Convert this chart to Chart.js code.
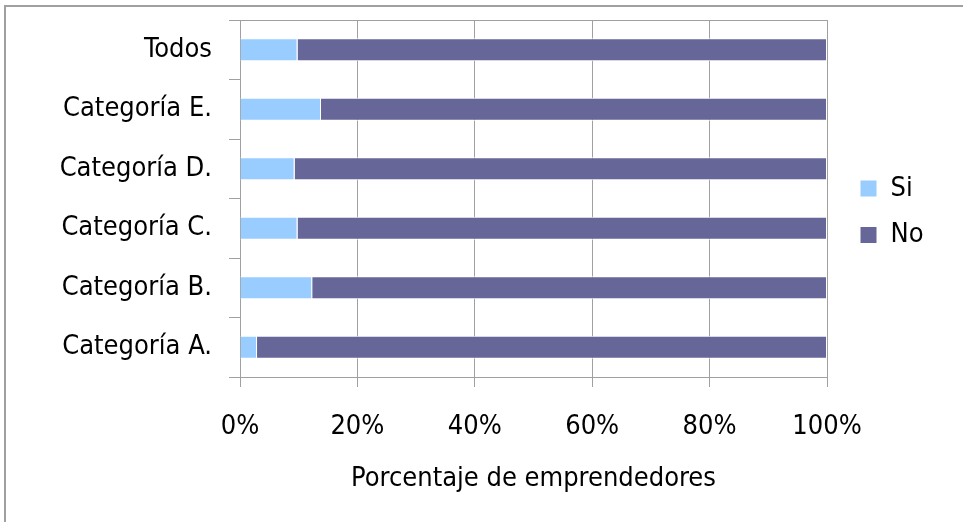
<!DOCTYPE html>
<html>
<head>
<meta charset="utf-8">
<script src="https://cdn.jsdelivr.net/npm/chart.js@4/dist/chart.umd.min.js"></script>
<style>
  html, body { margin: 0; padding: 0; background: #fff; overflow: hidden; }
  #wrap { position: relative; width: 963px; height: 522px; }
  #frame { position: absolute; left: 4px; top: 5px; width: 1000px; height: 600px;
           border-left: 2px solid #a0a0a0; border-top: 2px solid #a0a0a0; pointer-events: none; }
</style>
</head>
<body>
<div id="wrap">
  <canvas id="chart" width="963" height="522"></canvas>
  <div id="frame"></div>
</div>
<script>
// Chart data
const categories = ['Todos', 'Categoría E.', 'Categoría D.', 'Categoría C.', 'Categoría B.', 'Categoría A.'];
const siValues = [9.8, 13.8, 9.3, 9.8, 12.3, 2.9];
const noValues = [90.2, 86.2, 90.7, 90.2, 87.7, 97.1];
const xTicks = [0, 20, 40, 60, 80, 100];

const FONT = "'Liberation Sans Narrow', 'Arial Narrow', 'DejaVu Sans Condensed', sans-serif";
const FSIZE = 27;
const GRID = '#a0a0a0';

// Put the legend where the original has it (right of the plot, a bit above centre)
const legendShift = {
  id: 'legendShift',
  afterLayout(chart) {
    const lg = chart.legend;
    if (!lg || !lg.columnSizes) return;
    const pad = lg.options.labels.padding;
    lg.left = 860 - pad;
    lg.right = chart.width;
    lg.width = lg.right - lg.left;
    // first item top should sit at y = 175
    const cur = (lg.top + pad + lg.bottom - lg.columnSizes[0].height) / 2;
    const dy = 175 - cur;
    lg.top += dy; lg.bottom += dy;
  }
};

const ctx = document.getElementById('chart').getContext('2d');
new Chart(ctx, {
  type: 'bar',
  data: {
    labels: categories,
    datasets: [
      { label: 'Si', data: siValues, backgroundColor: '#99ccff', borderColor: '#ffffff', borderWidth: 1 },
      { label: 'No', data: noValues, backgroundColor: '#666699', borderColor: '#ffffff', borderWidth: 1 }
    ]
  },
  options: {
    indexAxis: 'y',
    responsive: false,
    animation: false,
    barPercentage: 1,
    categoryPercentage: 0.39,
    layout: { padding: { top: 20, right: 76, left: 0, bottom: 0 } },
    plugins: {
      legend: {
        position: 'right',
        maxWidth: 60,
        labels: {
          boxWidth: 17, boxHeight: 17, padding: 19.5,
          color: '#000', font: { family: FONT, size: FSIZE }
        }
      },
      tooltip: { enabled: false }
    },
    scales: {
      x: {
        stacked: true,
        min: 0, max: 100,
        afterBuildTicks: axis => { axis.ticks = xTicks.map(v => ({ value: v })); },
        afterFit: axis => { axis.height = 145; axis.paddingLeft = 0; axis.paddingRight = 0; },
        grid: { color: GRID, tickLength: 10, lineWidth: 1 },
        border: { color: GRID, width: 1 },
        ticks: { color: '#000', padding: 24, font: { family: FONT, size: FSIZE }, callback: v => v + '%' },
        title: {
          display: true, text: 'Porcentaje de emprendedores', color: '#000',
          font: { family: FONT, size: FSIZE }, padding: { top: 0, bottom: 27 }
        }
      },
      y: {
        stacked: true,
        afterFit: axis => { axis.width = 240; axis.paddingTop = 0; axis.paddingBottom = 0; },
        grid: {
          offset: true, tickLength: 11, tickColor: GRID,
          color: c => (c.index === 0 ? GRID : 'rgba(0,0,0,0)')
        },
        border: { color: GRID, width: 1 },
        ticks: { color: '#000', padding: 17, font: { family: FONT, size: FSIZE } }
      }
    }
  },
  plugins: [legendShift]
});
</script>
</body>
</html>
